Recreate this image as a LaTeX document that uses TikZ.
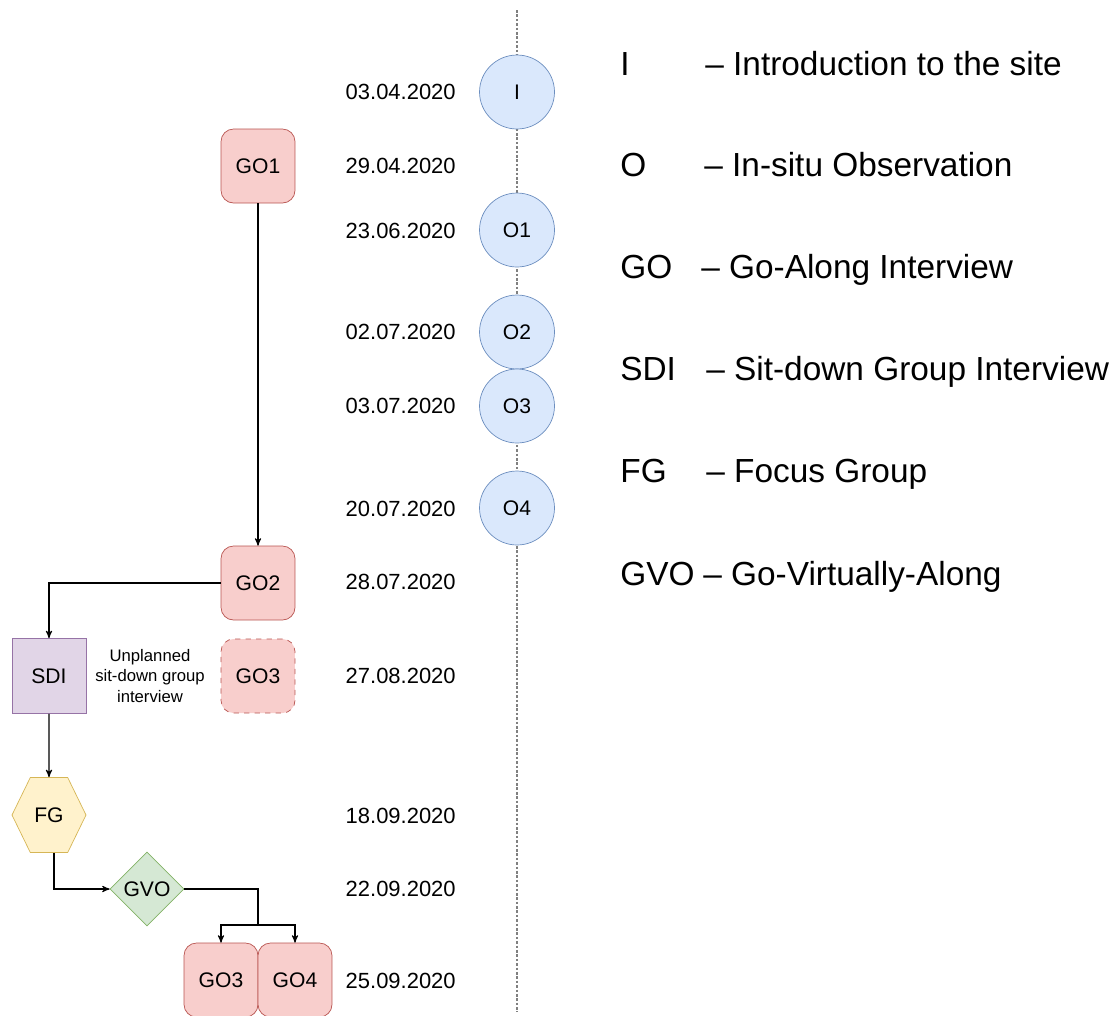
\documentclass[tikz,border=0pt]{standalone}
\usepackage{fontspec}
\setmainfont{Liberation Sans}
\usepackage{tikz}
\usetikzlibrary{arrows,shapes.geometric,shapes.symbols}

\definecolor{gofill}{HTML}{F8CECC}
\definecolor{goline}{HTML}{B85450}
\definecolor{obsfill}{HTML}{DAE8FC}
\definecolor{obsline}{HTML}{6C8EBF}
\definecolor{sdifill}{HTML}{E1D5E7}
\definecolor{sdiline}{HTML}{9673A6}
\definecolor{fgfill}{HTML}{FFF2CC}
\definecolor{fgline}{HTML}{D6B656}
\definecolor{gvofill}{HTML}{D5E8D4}
\definecolor{gvoline}{HTML}{82B366}

\tikzset{
  every node/.style={font=\fontsize{12}{14}\selectfont},
  gobox/.style={draw=goline, fill=gofill, rounded corners=0.25cm, minimum width=1.48cm, minimum height=1.48cm, inner sep=0pt},
  obs/.style={ellipse, draw=obsline, fill=obsfill, minimum width=1.5cm, minimum height=1.48cm, inner sep=0pt},
  sdibox/.style={draw=sdiline, fill=sdifill, minimum width=1.48cm, minimum height=1.5cm, inner sep=0pt},
  fghex/.style={signal, signal to=west and east, signal pointer angle=128, draw=fgline, fill=fgfill, minimum width=1.48cm, minimum height=1.5cm, inner sep=0pt},
  gvodia/.style={diamond, aspect=1, draw=gvoline, fill=gvofill, minimum width=1.48cm, minimum height=1.48cm, inner sep=0pt},
  datelbl/.style={anchor=east, inner sep=0pt, font=\fontsize{12.5}{14}\selectfont},
  legend/.style={anchor=west, inner sep=0pt, text height=1.5ex, text depth=.25ex, font=\fontsize{19}{22}\selectfont},
  note/.style={align=center, inner sep=0pt, font=\fontsize{9.5}{11.5}\selectfont},
  tline/.style={gray, line width=0.6pt, dash pattern=on 1.5pt off 1pt},
  flow/.style={->, >=stealth', line width=0.6pt}
}

\begin{document}
\begin{tikzpicture}[x=0.02cm, y=-0.02cm]
\useasboundingbox (0,0) rectangle (1114,1015);

\coordinate (ttop) at (517,10);
\coordinate (tbot) at (517,1012);
\draw[tline] (ttop) -- (tbot);

\node[obs] (i)  at (517,92)  {I};
\node[obs] (o1) at (517,230) {O1};
\node[obs] (o2) at (517,332) {O2};
\node[obs] (o3) at (517,406) {O3};
\node[obs] (o4) at (517,508) {O4};

\node[datelbl] (d1)  at (456,92)  {03.04.2020};
\node[datelbl] (d2)  at (456,166) {29.04.2020};
\node[datelbl] (d3)  at (456,231) {23.06.2020};
\node[datelbl] (d4)  at (456,332) {02.07.2020};
\node[datelbl] (d5)  at (456,406) {03.07.2020};
\node[datelbl] (d6)  at (456,509) {20.07.2020};
\node[datelbl] (d7)  at (456,582) {28.07.2020};
\node[datelbl] (d8)  at (456,676) {27.08.2020};
\node[datelbl] (d9)  at (456,816) {18.09.2020};
\node[datelbl] (d10) at (456,889) {22.09.2020};
\node[datelbl] (d11) at (456,981) {25.09.2020};

\node[gobox] (go1)  at (258,166) {GO1};
\node[gobox] (go2)  at (258,583) {GO2};
\node[gobox, dashed] (go3u) at (258,676) {GO3};
\node[sdibox] (sdi) at (49,676) {SDI};
\node[note] (unpl) at (150,676) {Unplanned\\sit-down group\\interview};
\node[fghex] (fg) at (49,815) {FG};
\node[gvodia] (gvo) at (147,889) {GVO};
\node[gobox] (go3) at (221,980) {GO3};
\node[gobox] (go4) at (295,980) {GO4};
\coordinate (split) at (258,925);

\draw[flow] (go1) -- (go2);
\draw[flow] (go2.west) -| (sdi.north);
\draw[flow] (sdi) -- (fg);
\draw[flow] ([xshift=0.1cm]fg.south) |- (gvo.west);
\draw[line width=0.6pt] (gvo.east) -| (split);
\draw[flow] (split) -| (go3.north);
\draw[flow] (split) -| (go4.north);

\node[legend] (li)   at (620,70)  {I};
\node[legend] (lo)   at (620,171) {O};
\node[legend] (lgo)  at (620,273) {GO};
\node[legend] (lsdi) at (620,375) {SDI};
\node[legend] (lfg)  at (620,477) {FG};
\node[legend] (lgvo) at (620,580) {GVO};
\node[legend] (ti)   at (705,70)  {– Introduction to the site};
\node[legend] (to)   at (704,171) {– In-situ Observation};
\node[legend] (tgo)  at (701,273) {– Go-Along Interview};
\node[legend] (tsdi) at (706,375) {– Sit-down Group Interview};
\node[legend] (tfg)  at (706,477) {– Focus Group};
\node[legend] (tgvo) at (703,580) {– Go-Virtually-Along};
\end{tikzpicture}
\end{document}
